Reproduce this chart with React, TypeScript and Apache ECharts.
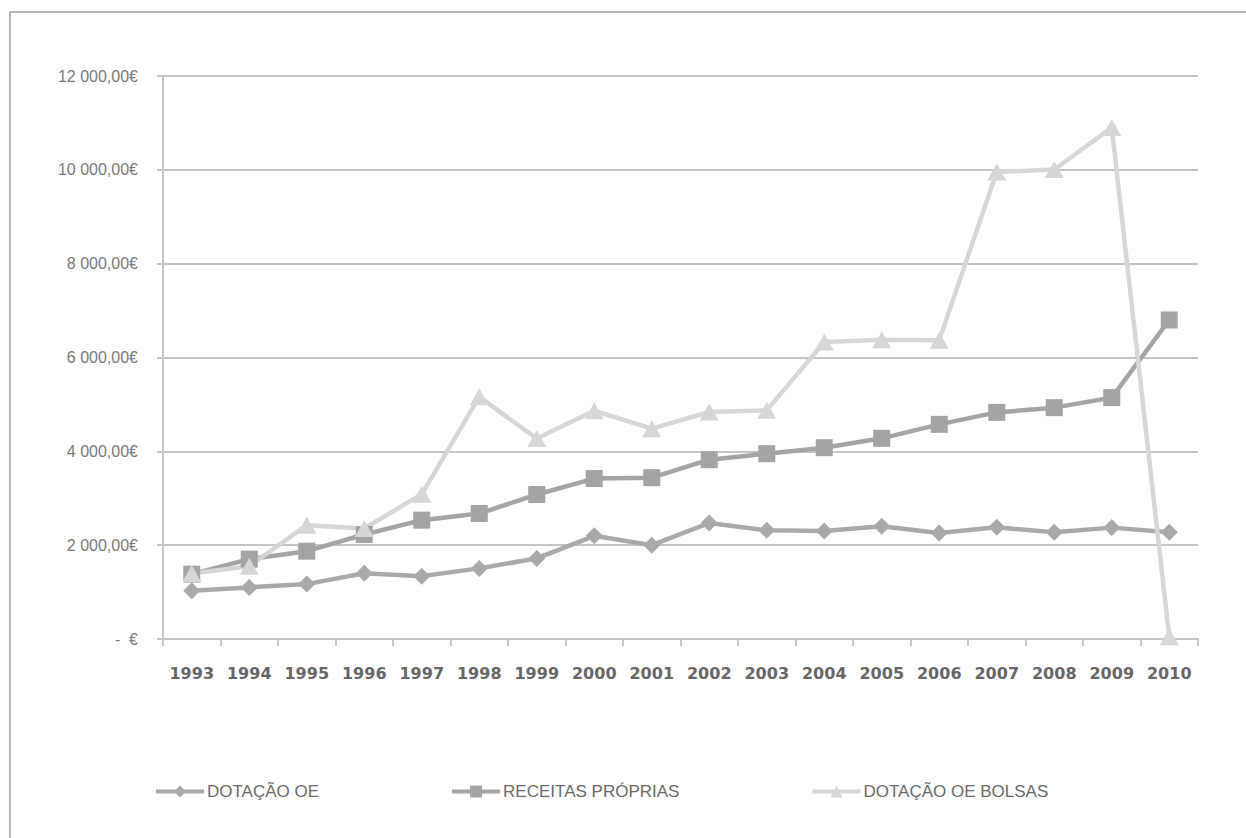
import React, { useEffect, useRef } from "react";
import * as echarts from "echarts";

const years = ["1993","1994","1995","1996","1997","1998","1999","2000","2001","2002","2003","2004","2005","2006","2007","2008","2009","2010"];
const dotacaoOE = [1030, 1100, 1170, 1400, 1340, 1505, 1718, 2200, 2000, 2472, 2316, 2302, 2401, 2260, 2380, 2275, 2374, 2275];
const receitasProprias = [1382, 1702, 1872, 2227, 2533, 2675, 3080, 3420, 3439, 3822, 3950, 4078, 4277, 4575, 4830, 4931, 5145, 6800];
const dotacaoBolsas = [1396, 1552, 2426, 2355, 3087, 5162, 4273, 4865, 4483, 4838, 4874, 6330, 6380, 6370, 9954, 10008, 10900, 50];
const seriesNames = ["DOTAÇÃO OE", "RECEITAS PRÓPRIAS", "DOTAÇÃO OE BOLSAS"];

function fmt(v: number): string {
  if (v === 0) return "-  €";
  const s = String(Math.round(v));
  const withSpaces = s.replace(/\B(?=(\d{3})+(?!\d))/g, " ");
  return withSpaces + ",00€";
}

export default function App() {
  const ref = useRef<HTMLDivElement>(null);
  useEffect(() => {
    if (!ref.current) return;
    const chart = echarts.init(ref.current, undefined, { renderer: "svg" });
    const narrow = "'Liberation Sans Narrow', 'Liberation Sans', Arial, sans-serif";
    chart.setOption({
      animation: false,
      backgroundColor: "#ffffff",
      graphic: [
        { type: "line", shape: { x1: 10, y1: 12, x2: 1246, y2: 12 }, style: { stroke: "#9a9a9a", lineWidth: 1.5 } },
        { type: "line", shape: { x1: 10, y1: 12, x2: 10, y2: 838 }, style: { stroke: "#9a9a9a", lineWidth: 1.5 } },
      ],
      grid: { left: 163, top: 76, width: 1035, height: 563, containLabel: false },
      legend: {
        left: 154,
        top: 783,
        padding: 0,
        itemWidth: 48,
        itemHeight: 15,
        itemGap: 131,
        lineStyle: { width: 4 },
        textStyle: { fontFamily: narrow, fontSize: 17, color: "#6a6a6a", padding: [0, 0, 0, -2] },
        data: seriesNames,
      },
      xAxis: {
        type: "category",
        data: years,
        boundaryGap: true,
        axisLine: { lineStyle: { color: "#c4c4c4", width: 2 } },
        axisTick: { show: true, alignWithLabel: false, length: 7, lineStyle: { color: "#c4c4c4", width: 2 } },
        axisLabel: { fontFamily: "'DejaVu Sans', sans-serif", fontWeight: "bold", fontSize: 16, color: "#666666", margin: 26, interval: 0 },
        splitLine: { show: false },
      },
      yAxis: {
        type: "value",
        min: 0,
        max: 12000,
        interval: 2000,
        axisLine: { show: true, lineStyle: { color: "#c4c4c4", width: 2 } },
        axisTick: { show: true, length: 6, lineStyle: { color: "#c4c4c4", width: 2 } },
        axisLabel: { fontFamily: narrow, fontSize: 16, color: "#7a7a7a", margin: 25, formatter: fmt },
        splitLine: { show: true, lineStyle: { color: "#c4c4c4", width: 2 } },
      },
      series: [
        {
          name: seriesNames[0],
          type: "line",
          data: dotacaoOE,
          symbol: "diamond",
          symbolSize: 17,
          color: "#a9a9a9",
          lineStyle: { width: 4.5, color: "#a9a9a9" },
          itemStyle: { color: "#a9a9a9" },
        },
        {
          name: seriesNames[1],
          type: "line",
          data: receitasProprias,
          symbol: "rect",
          symbolSize: 17,
          color: "#a4a4a6",
          lineStyle: { width: 4.5, color: "#a4a4a6" },
          itemStyle: { color: "#a4a4a6" },
        },
        {
          name: seriesNames[2],
          type: "line",
          data: dotacaoBolsas,
          symbol: "triangle",
          symbolSize: [19, 17],
          color: "#d6d6d6",
          lineStyle: { width: 4.5, color: "#d6d6d6" },
          itemStyle: { color: "#d6d6d6" },
        },
      ],
    });
    return () => chart.dispose();
  }, []);
  return <div ref={ref} style={{ position: "fixed", left: 0, top: 0, width: 1246, height: 838 }} />;
}
